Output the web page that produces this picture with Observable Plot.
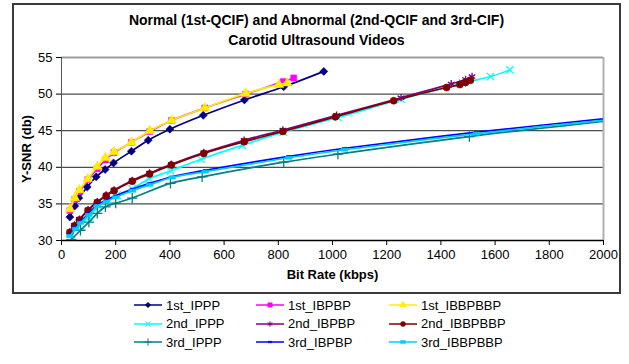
<!DOCTYPE html>
<html><head><meta charset="utf-8">
<script src="https://cdn.jsdelivr.net/npm/d3@7"></script>
<script src="https://cdn.jsdelivr.net/npm/@observablehq/plot@0.6"></script>
<style>
body{margin:0;background:#fff;font-family:"Liberation Sans",Arial,sans-serif;}
#wrap{position:relative;width:629px;height:364px;overflow:hidden;background:#fff}
#frame{position:absolute;left:12px;top:3px;width:609px;height:291px;border:2px solid #3a3a3a;box-sizing:border-box}
#title{position:absolute;left:12px;top:10px;width:609px;text-align:center;font-weight:bold;font-size:14px;line-height:20px;color:#000}
#chart{position:absolute;left:0;top:0}
#legend{position:absolute;left:133px;top:296px;display:grid;grid-template-columns:122px 133px 130px;grid-auto-rows:18.5px;font-size:13px;color:#000}
.item{display:flex;align-items:center;white-space:nowrap}
.item svg{margin-right:3px;flex:none}
</style></head>
<body><div id="wrap"><div id="frame"></div><div id="title">Normal (1st-QCIF) and Abnormal (2nd-QCIF and 3rd-CIF)<br>Carotid Ultrasound Videos</div><div id="chart"></div><div id="legend"></div></div>
<script>
// ---- data (bit rate kbps, Y-SNR db) ----
const names = ["1st_IPPP","1st_IBPBP","1st_IBBPBBP","2nd_IPPP","2nd_IBPBP","2nd_IBBPBBP","3rd_IPPP","3rd_IBPBP","3rd_IBBPBBP"];
const colors = ["#000080","#ff00ff","#ffee00","#00ffff","#800080","#800000","#008080","#0000ff","#00ccff"];
const xTicks = [0,200,400,600,800,1000,1200,1400,1600,1800,2000];
const yTicks = [30,35,40,45,50,55];

const x_1st_IPPP = [31,49,64,95,128,161,192,258,320,400,523,675,820,968];
const y_1st_IPPP = [33.2,34.7,35.8,37.3,38.7,39.7,40.6,42.2,43.7,45.2,47.1,49.2,51.0,53.1];
const x_1st_IBPBP = [31,49,66,97,132,162,194,258,326,406,529,680,818,857];
const y_1st_IBPBP = [34.1,35.6,36.7,38.3,39.8,41.0,42.0,43.4,44.9,46.4,48.1,50.0,51.7,52.2];
const x_1st_IBBPBBP = [31,49,66,97,132,162,194,258,326,406,529,680,802,833];
const y_1st_IBBPBBP = [34.3,35.8,36.9,38.4,40.1,41.3,42.1,43.4,45.0,46.4,48.1,50.1,51.3,51.5];
const x_2nd_IPPP = [36,64,101,138,169,205,261,322,402,515,667,818,1020,1253,1480,1583,1655];
const y_2nd_IPPP = [30.8,32.0,33.2,34.7,35.5,36.2,37.1,38.4,39.5,41.1,43.0,44.8,46.8,49.3,51.5,52.4,53.3];
const x_2nd_IBPBP = [31,48,66,98,132,165,194,261,325,405,525,674,817,1015,1253,1438,1491,1515];
const y_2nd_IBPBP = [31.2,32.1,32.9,34.2,35.3,36.2,36.9,38.2,39.2,40.4,42.0,43.7,45.1,47.1,49.5,51.4,52.0,52.4];
const x_2nd_IBBPBBP = [31,48,66,98,132,165,194,261,325,405,525,674,817,1011,1226,1421,1470,1491,1509];
const y_2nd_IBBPBBP = [31.1,32.0,32.8,34.1,35.2,36.1,36.8,38.1,39.1,40.3,41.9,43.5,44.9,46.9,49.1,50.9,51.3,51.6,51.9];
const x_3rd_IPPP = [36,70,101,132,162,200,261,402,519,820,1020,1505,2100];
const y_3rd_IPPP = [30.1,31.4,32.5,33.7,34.6,35.1,35.8,37.8,38.7,40.7,41.8,44.2,46.7];
const x_3rd_IBPBP = [31,52,70,101,132,165,200,261,325,408,531,839,1045,1532,2100];
const y_3rd_IBPBP = [30.8,31.8,32.6,33.7,34.9,35.5,36.1,37.0,37.8,38.7,39.6,41.5,42.6,44.8,47.0];
const x_3rd_IBBPBBP = [31,52,70,101,132,165,200,261,325,408,531,839,1045,1532,2100];
const y_3rd_IBBPBBP = [30.6,31.6,32.4,33.5,34.7,35.3,35.9,36.8,37.6,38.6,39.4,41.3,42.4,44.6,46.8];

const xs = [x_1st_IPPP,x_1st_IBPBP,x_1st_IBBPBBP,x_2nd_IPPP,x_2nd_IBPBP,x_2nd_IBBPBBP,x_3rd_IPPP,x_3rd_IBPBP,x_3rd_IBBPBBP];
const ys = [y_1st_IPPP,y_1st_IBPBP,y_1st_IBBPBBP,y_2nd_IPPP,y_2nd_IBPBP,y_2nd_IBBPBBP,y_3rd_IPPP,y_3rd_IBPBP,y_3rd_IBBPBBP];

// ---- marker symbols (Excel style) ----
const shortDash = {draw(ctx,size){const w=Math.sqrt(size)*0.8,h=1.6;ctx.moveTo(-w/2,-h/2);ctx.lineTo(w/2,-h/2);ctx.lineTo(w/2,h/2);ctx.lineTo(-w/2,h/2);ctx.closePath();}};
const longDash = {draw(ctx,size){const w=Math.sqrt(size)*1.1,h=3;ctx.moveTo(-w/2,-h/2);ctx.lineTo(w/2,-h/2);ctx.lineTo(w/2,h/2);ctx.lineTo(-w/2,h/2);ctx.closePath();}};
const markers = [
  {symbol:"diamond2",filled:true,r:3.6},
  {symbol:"square",filled:true,r:3.4},
  {symbol:"triangle",filled:true,r:3.6},
  {symbol:"times",filled:false,r:3.4},
  {symbol:"asterisk",filled:false,r:3.6},
  {symbol:"circle",filled:true,r:3.5},
  {symbol:"plus",filled:false,r:3.4},
  {symbol:shortDash,filled:true,r:3.4},
  {symbol:longDash,filled:true,r:3.4}
];

const data = names.map((n,i)=>xs[i].map((x,j)=>({series:n,x,y:ys[i][j]})));

const marks = [
  Plot.gridY([35,40,45,50],{stroke:"#4d4d4d",strokeOpacity:1,strokeWidth:1.2}),
  Plot.ruleY([55],{stroke:"#9a9a9a",strokeWidth:2}),
  Plot.ruleX([2000],{stroke:"#b0b0b0",strokeWidth:2}),
  Plot.ruleX([0],{stroke:"#555"}),
  Plot.ruleY([30],{stroke:"#000",strokeWidth:1.3}),
  Plot.axisX({ticks:xTicks,tickSize:5,tickPadding:4,tickFormat:d=>String(d),label:"Bit Rate (kbps)",labelAnchor:"center",labelArrow:"none",labelOffset:38,fontSize:13}),
  Plot.axisY({ticks:yTicks,tickSize:5,tickPadding:4,tickFormat:d=>String(d),label:"Y-SNR (db)",labelAnchor:"center",labelArrow:"none",labelOffset:40,fontSize:13})
];
names.forEach((n,i)=>{
  const m = markers[i];
  marks.push(Plot.line(data[i],{x:"x",y:"y",stroke:"series",strokeWidth:1.7,curve:"catmull-rom",clip:true}));
  marks.push(Plot.dot(data[i],{x:"x",y:"y",symbol:()=>m.symbol,r:m.r,
    fill:m.filled?"series":"none",stroke:"series",strokeWidth:m.filled?0.6:1.3,clip:true}));
});

const chart = Plot.plot({
  width:629,height:294,
  marginLeft:61,marginRight:26,marginTop:57,marginBottom:54,
  style:{fontFamily:"'Liberation Sans', Arial, sans-serif",fontSize:"13px",color:"#000",background:"transparent",overflow:"visible"},
  x:{domain:[0,2000]},
  y:{domain:[30,55]},
  color:{domain:names,range:colors},
  symbol:{type:"identity"},
  marks
});
document.getElementById("chart").appendChild(chart);
d3.select(chart).selectAll('g[aria-label="x-axis label"] text, g[aria-label="y-axis label"] text').style("font-weight","bold");

// ---- legend ----
const leg = d3.select("#legend");
const order = [0,1,2,3,4,5,6,7,8];
order.forEach(i=>{
  const it = leg.append("div").attr("class","item");
  const sv = it.append("svg").attr("width",30).attr("height",12);
  sv.append("line").attr("x1",1).attr("x2",29).attr("y1",6).attr("y2",6).attr("stroke",colors[i]).attr("stroke-width",1.5);
  const m = markers[i];
  const sym = typeof m.symbol==="string" ? {diamond2:d3.symbolDiamond2,square:d3.symbolSquare,triangle:d3.symbolTriangle,times:d3.symbolTimes,asterisk:d3.symbolAsterisk,circle:d3.symbolCircle,plus:d3.symbolPlus}[m.symbol] : m.symbol;
  sv.append("path").attr("transform","translate(15,6)").attr("d",d3.symbol(sym,Math.PI*2.5*2.5)())
    .attr("fill",m.filled?colors[i]:"none").attr("stroke",colors[i]).attr("stroke-width",m.filled?0.5:1);
  it.append("span").text(names[i]);
});
</script></body></html>
